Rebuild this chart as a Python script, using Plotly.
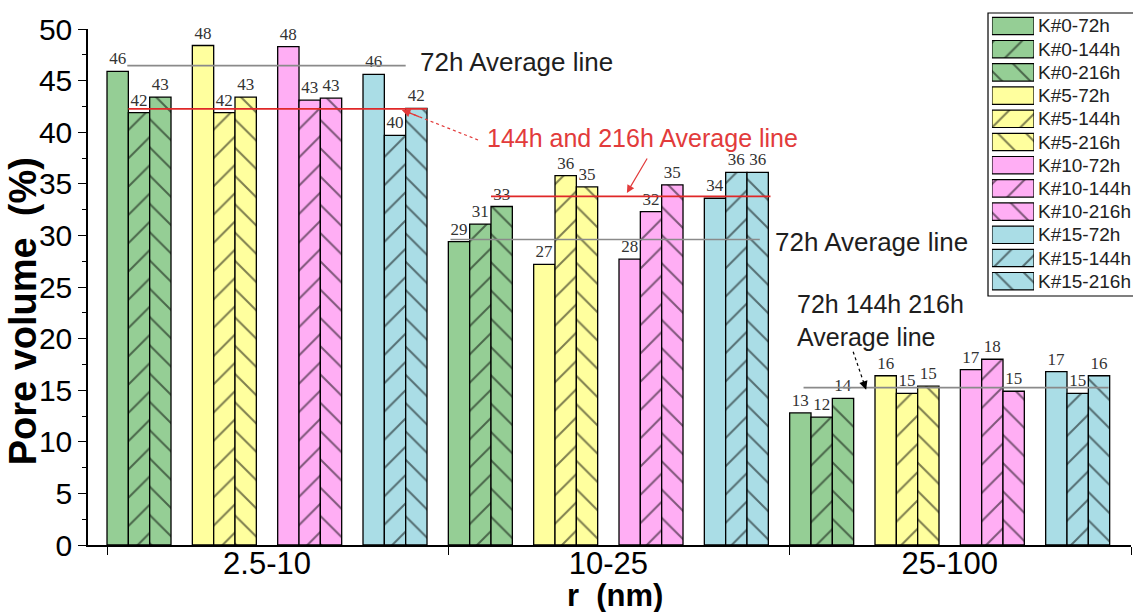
import plotly.graph_objects as go

# Pore size ranges (x categories)
categories = ["2.5-10", "10-25", "25-100"]
samples = ["K#0", "K#5", "K#10", "K#15"]
times = ["72h", "144h", "216h"]

# Pore volume (%) of each sample / curing time, one value per pore size range
K0_72h = [45.9, 29.4, 12.8]
K0_144h = [41.9, 31.1, 12.4]
K0_216h = [43.4, 32.8, 14.2]
K5_72h = [48.4, 27.2, 16.4]
K5_144h = [41.9, 35.8, 14.7]
K5_216h = [43.4, 34.7, 15.4]
K10_72h = [48.3, 27.7, 17.0]
K10_144h = [43.1, 32.3, 18.0]
K10_216h = [43.3, 34.9, 14.9]
K15_72h = [45.6, 33.6, 16.8]
K15_144h = [39.7, 36.1, 14.7]
K15_216h = [42.3, 36.1, 16.4]

series_values = [
    K0_72h, K0_144h, K0_216h,
    K5_72h, K5_144h, K5_216h,
    K10_72h, K10_144h, K10_216h,
    K15_72h, K15_144h, K15_216h,
]

# Average lines drawn in each pore size range
avg_72h = [46.45, 29.6, 15.25]
avg_144h_216h = [42.26, 33.78]

sample_colors = ["#95CE95", "#FFFF9E", "#FFAEF4", "#AADDE6"]
time_patterns = ["", "/", "\\"]

FONT = "Liberation Sans, Arial, sans-serif"
SERIF = "Liberation Serif, Times New Roman, serif"
NBSP = "\u00a0"
SLOTS = 16  # bar slots per pore size range (12 bars + 3 inner gaps + 1 outer gap)
BAR_W = 1.0 / SLOTS

fig = go.Figure()

# ---- main bars ----
for s, sample in enumerate(samples):
    for t, tm in enumerate(times):
        vals = series_values[s * 3 + t]
        slot = s * 4 + t
        xs = [g + (slot + 0.5) / SLOTS for g in range(len(categories))]
        fig.add_trace(go.Bar(
            x=xs, y=vals, width=BAR_W,
            name=f"{sample}-{tm}",
            marker=dict(
                color=sample_colors[s],
                line=dict(color="black", width=1.3),
                pattern=dict(shape=time_patterns[t], fgcolor="black",
                             size=20, solidity=0.1, fillmode="overlay"),
            ),
            texttemplate="%{y:.0f}", textposition="outside",
            textfont=dict(family=SERIF, size=17, color="#333333"),
            constraintext="none", cliponaxis=False,
            showlegend=False, hoverinfo="skip",
        ))

# ---- average lines ----
def slot_x(g, slot):
    return g + slot / SLOTS

gray_spans = [(0.95, 14.0), (0.1, 14.6), (0.65, 14.95)]
red_spans = [(1.0, 15.0), (2.0, 15.1)]
for g, (v, (a, b)) in enumerate(zip(avg_72h, gray_spans)):
    fig.add_shape(type="line", xref="x", yref="y",
                  x0=slot_x(g, a), x1=slot_x(g, b), y0=v, y1=v,
                  line=dict(color="#8A8A8A", width=1.6), layer="above")
for g, (v, (a, b)) in enumerate(zip(avg_144h_216h, red_spans)):
    fig.add_shape(type="line", xref="x", yref="y",
                  x0=slot_x(g, a), x1=slot_x(g, b), y0=v, y1=v,
                  line=dict(color="#E02828", width=1.6), layer="above")

RED = "#E23B3B"
TXT = "#1E1E1E"

# ---- line captions ----
fig.add_annotation(x=0.911, y=46.8, xref="x", yref="y", text="72h Average line",
                   showarrow=False, xanchor="left", yanchor="middle",
                   font=dict(family=FONT, size=26, color=TXT))
fig.add_annotation(x=1.951, y=29.4, xref="x", yref="y", text="72h Average line",
                   showarrow=False, xanchor="left", yanchor="middle",
                   font=dict(family=FONT, size=26, color=TXT))
fig.add_annotation(x=1.107, y=39.45, xref="x", yref="y",
                   text="144h and 216h Average line",
                   showarrow=False, xanchor="left", yanchor="middle",
                   font=dict(family=FONT, size=25, color=RED))
fig.add_annotation(x=2.015, y=21.73, xref="x", yref="y",
                   text="72h 144h 216h<br>Average line", align="left",
                   showarrow=False, xanchor="left", yanchor="middle",
                   font=dict(family=FONT, size=25, color=TXT))

# ---- pointer arrows ----
def dotted_arrow(tail, head, color):
    hx, hy = head
    tx, ty = tail
    fig.add_shape(type="line", xref="x", yref="y", x0=tx, y0=ty, x1=hx, y1=hy,
                  line=dict(color=color, width=1.2, dash="dot"), layer="above")
    fig.add_annotation(x=hx, y=hy, xref="x", yref="y", axref="x", ayref="y",
                       ax=hx + (tx - hx) * 0.25, ay=hy + (ty - hy) * 0.25,
                       text="", showarrow=True, arrowhead=2, arrowsize=1.3,
                       arrowwidth=1.3, arrowcolor=color)

dotted_arrow((1.087, 39.25), (0.864, 42.16), RED)
fig.add_annotation(x=1.523, y=34.12, xref="x", yref="y", axref="x", ayref="y",
                   ax=1.585, ay=37.6, text="", showarrow=True, arrowhead=2,
                   arrowsize=1.3, arrowwidth=1.2, arrowcolor=RED)
dotted_arrow((2.186, 18.73), (2.224, 15.05), "black")

# ---- axis titles ----
fig.add_annotation(x=-0.0625, y=0.4324, xref="paper", yref="paper",
                   xanchor="center", yanchor="middle",
                   text="<b>Pore volume" + NBSP * 2 + "(%)</b>", textangle=-90,
                   showarrow=False,
                   font=dict(family=FONT, size=38, color="black"))
fig.add_annotation(x=0.505, y=-0.0926, xref="paper", yref="paper",
                   xanchor="center", yanchor="middle",
                   text="<b>r" + NBSP * 2 + "(nm)</b>", showarrow=False,
                   font=dict(family=FONT, size=31, color="black"))

# ---- legend (drawn on its own small axes so swatches keep their hatching) ----
legend_names = [f"{s}-{t}" for s in samples for t in times]
fig.add_shape(type="rect", xref="paper", yref="paper",
              x0=0.8629, x1=1.01, y0=0.4611, y1=0.9852,
              line=dict(color="black", width=1.2), fillcolor="white", layer="below")
for i, name in enumerate(legend_names):
    s, t = divmod(i, 3)
    fig.add_trace(go.Bar(
        x=[1], y=[i], base=0, orientation="h", width=0.75,
        xaxis="x2", yaxis="y2",
        marker=dict(color=sample_colors[s],
                    line=dict(color="black", width=1.2),
                    pattern=dict(shape=time_patterns[t], fgcolor="black",
                                 size=20, solidity=0.1, fillmode="overlay")),
        showlegend=False, hoverinfo="skip",
    ))
    fig.add_annotation(x=0.9085, y=i, xref="paper", yref="y2", text=name,
                       showarrow=False, xanchor="left", yanchor="middle",
                       font=dict(family=FONT, size=19, color="#222222"))

fig.update_layout(
    width=1133, height=612,
    margin=dict(l=88, r=2, t=5, b=67, autoexpand=False),
    paper_bgcolor="white", plot_bgcolor="white",
    barmode="overlay",
    xaxis=dict(
        automargin=False,
        range=[-0.0557, 3.0], showgrid=False, zeroline=False,
        showline=True, linecolor="black", linewidth=1.5,
        tickmode="array", tickvals=[g + 7.5 / SLOTS for g in range(len(categories))],
        ticktext=categories, ticks="", ticklabelstandoff=-10,
        tickfont=dict(family=FONT, size=31, color="black"),
        minor=dict(tickmode="array", tickvals=[0, 1, 2, 3], ticks="outside",
                   ticklen=8, tickwidth=1.2, tickcolor="black"),
    ),
    yaxis=dict(
        automargin=False,
        domain=[0, 516 / 540], range=[0, 50], showgrid=False, zeroline=False,
        showline=True, linecolor="black", linewidth=1.5,
        tickmode="linear", tick0=0, dtick=5, ticks="outside", ticklen=8,
        tickwidth=1.3, tickcolor="black",
        tickfont=dict(family=FONT, size=30, color="black"),
        minor=dict(dtick=2.5, ticks="outside", ticklen=4, tickwidth=1,
                   tickcolor="black"),
    ),
    xaxis2=dict(domain=[0.8667, 0.9070], anchor="y2", range=[0, 1],
                visible=False, automargin=False),
    yaxis2=dict(domain=[0.467, 0.9826], anchor="x2", range=[11.5, -0.5],
                visible=False, automargin=False),
)

fig.write_html("out.html")
